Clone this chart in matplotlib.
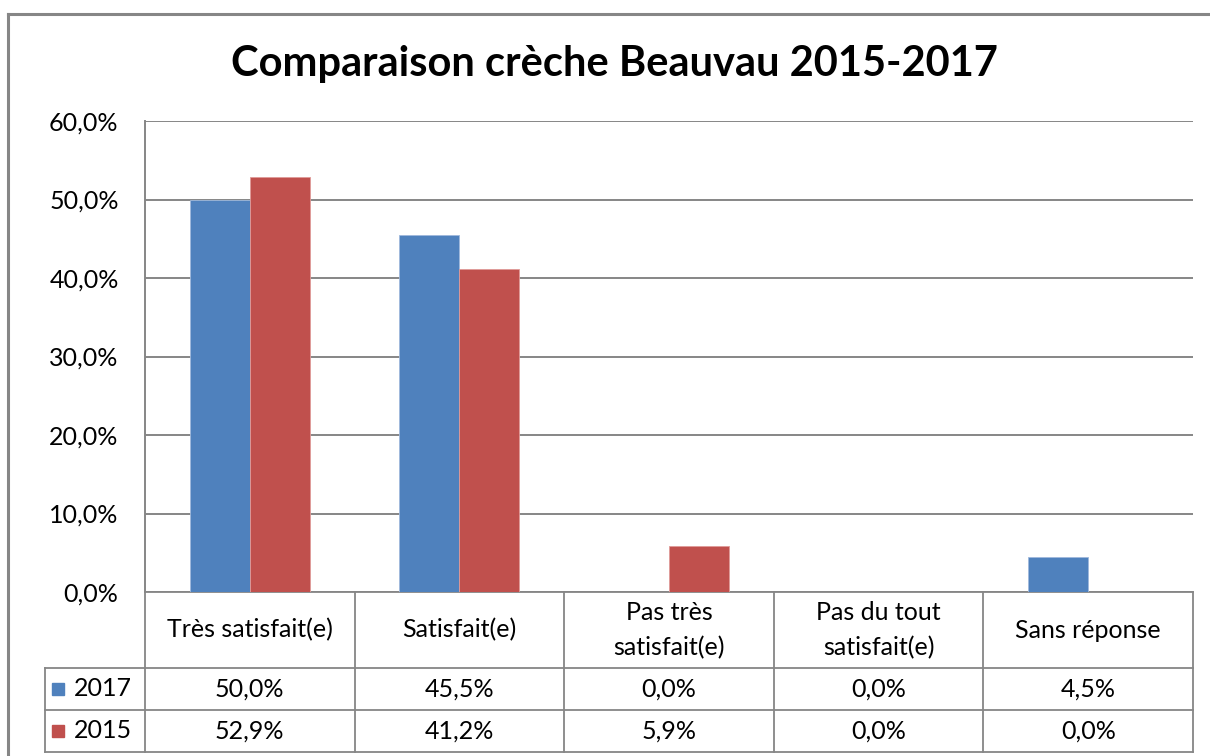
import numpy as np
import matplotlib.pyplot as plt
import matplotlib.transforms as mtransforms
from matplotlib.patches import Rectangle

plt.rcParams['font.family'] = ['Lato', 'DejaVu Sans']

categories = ['Très satisfait(e)', 'Satisfait(e)', 'Pas très\nsatisfait(e)',
              'Pas du tout\nsatisfait(e)', 'Sans réponse']
series_names = ['2017', '2015']
v2017 = [50.0, 45.5, 0.0, 0.0, 4.5]
v2015 = [52.9, 41.2, 5.9, 0.0, 0.0]
yticks = [0, 10, 20, 30, 40, 50, 60]

colors = ['#4F81BD', '#C0504D']
grid_c = '#868686'
fs = 18

W, H = 1210, 756
fig = plt.figure(figsize=(W / 100, H / 100), dpi=100)

# plot area in pixel coordinates
px_left, px_right, px_top, px_bottom = 145, 1193, 121, 592
ax = fig.add_axes([px_left / W, 1 - px_bottom / H,
                   (px_right - px_left) / W, (px_bottom - px_top) / H])

x = np.arange(len(categories))
width = 0.286
ax.bar(x - width / 2, v2017, width, color=colors[0], edgecolor='#9fb9dc', linewidth=0.6, zorder=3)
ax.bar(x + width / 2, v2015, width, color=colors[1], edgecolor='#e09a98', linewidth=0.6, zorder=3)

ax.set_xlim(-0.5, len(categories) - 0.5)
ax.set_ylim(0, 60)
ax.set_yticks(yticks)
ax.set_yticklabels([f'{t:.1f}%'.replace('.', ',') for t in yticks], fontsize=fs)
ax.tick_params(axis='y', length=0, pad=19)
ax.set_xticks([])
ax.grid(True, axis='y', color=grid_c, linewidth=1.4, zorder=0)
for s in ['top', 'right', 'bottom']:
    ax.spines[s].set_visible(False)
ax.spines['left'].set_color(grid_c)
ax.spines['left'].set_linewidth(1.4)

# title
fig.text(614 / W, 1 - 64 / H, 'Comparaison crèche Beauvau 2015-2017',
         ha='center', va='center', fontsize=30, fontweight='bold')

# data table under the plot
def fy(py):
    return 1 - py / H

blend = mtransforms.blended_transform_factory(ax.transData, fig.transFigure)
lw = 1.3
line_kw = dict(color=grid_c, linewidth=lw, clip_on=False)

ax.plot([-0.5, len(categories) - 0.5], [fy(592)] * 2, transform=blend, **line_kw)
for py in [668, 710, 752]:
    fig.add_artist(plt.Line2D([45 / W, px_right / W], [fy(py)] * 2,
                              transform=fig.transFigure, **line_kw))

for k in range(len(categories) + 1):
    ax.plot([k - 0.5, k - 0.5], [fy(592), fy(752)], transform=blend, **line_kw)
fig.add_artist(plt.Line2D([45 / W] * 2, [fy(668), fy(752)],
                          transform=fig.transFigure, **line_kw))

for i, cat in enumerate(categories):
    ax.text(i, fy(630), cat, transform=blend, ha='center', va='center',
            fontsize=fs, linespacing=1.6)

rows = [v2017, v2015]
row_centers = [689, 731]
for r, (vals, yc) in enumerate(zip(rows, row_centers)):
    for i, v in enumerate(vals):
        ax.text(i, fy(yc), f'{v:.1f}%'.replace('.', ','), transform=blend,
                ha='center', va='center', fontsize=fs)
    fig.add_artist(Rectangle((52 / W, fy(yc + 6)), 12 / W, 12 / H,
                             transform=fig.transFigure, color=colors[r]))
    fig.text(74 / W, fy(yc), series_names[r], ha='left', va='center', fontsize=fs)

# outer chart border (left and top edges visible)
fig.add_artist(plt.Line2D([8 / W, 8 / W], [fy(14), 0], transform=fig.transFigure,
                          color=grid_c, linewidth=2.2))
fig.add_artist(plt.Line2D([8 / W, 1], [fy(14), fy(14)], transform=fig.transFigure,
                          color=grid_c, linewidth=2.2))

fig.savefig('out.png', dpi=100, facecolor='white')
